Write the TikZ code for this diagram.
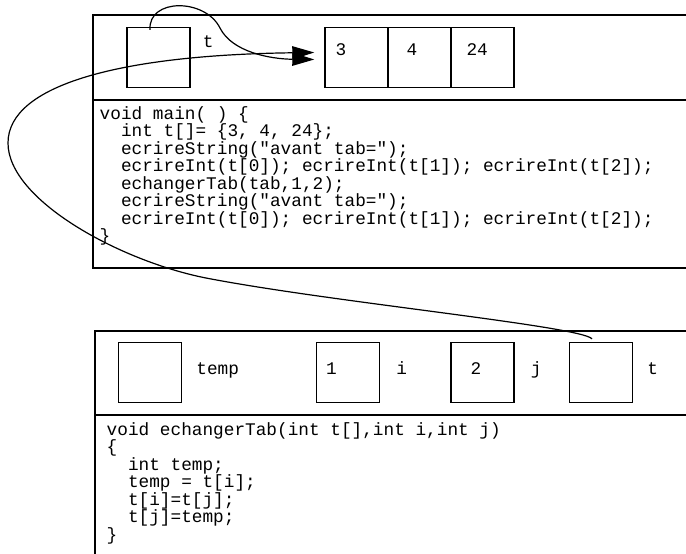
\documentclass[tikz,border=0pt]{standalone}
\usepackage{fontspec}
\newfontfamily\codefont{Liberation Mono}
\usetikzlibrary{arrows.meta,positioning}

\tikzset{
	cadre/.style={line width=1.4pt},
	boite/.style={draw,line width=1.4pt,minimum width=63pt,minimum height=60pt,inner sep=0pt},
	txt/.style={font=\codefont\fontsize{17.75pt}{17.5pt}\selectfont,inner sep=0pt},
	ligne/.style={txt,anchor=base west},
	lien/.style={line width=1.2pt,-{Triangle[length=22pt,width=13pt]}}
}

\begin{document}
\begin{tikzpicture}[x=1pt,y=-1pt]
	\useasboundingbox (0,0) rectangle (686,554);

	\draw[cadre] (686,15) -| (93,268) -- (686,268);
	\draw[cadre] (93,100) -- (686,100);
	\node[boite] (T) at (158.5,57.5) {};
	\node[txt,right=12pt of T.east,anchor=base west,yshift=10.5pt] (Tn) {t};
	\foreach \v/\d [count=\n] in {3/11pt,4/19pt,24/16pt} {
		\node[boite] (A\n) at (293.5+63*\n,57.5) {};
		\node[txt,right=\d of A\n.west,anchor=base west,yshift=2.5pt] (V\n) {\v};
	}
	\foreach \r/\l [count=\n] in {0/{void main( ) \{},2/{int t[]= \{3, 4, 24\};},2/{ecrireString("avant tab=");},2/{ecrireInt(t[0]); ecrireInt(t[1]); ecrireInt(t[2]);},2/{echangerTab(tab,1,2);},2/{ecrireString("avant tab=");},2/{ecrireInt(t[0]); ecrireInt(t[1]); ecrireInt(t[2]);},0/\}}
		\node[ligne,xshift=\r*10.65pt] (M\n) at (99.5,101.5+17.5*\n) {\l};

	\draw[cadre] (686,331) -| (95,554);
	\draw[cadre] (95,415) -- (686,415);
	\node[boite] (Btemp) at (150,372.5) {};
	\node[boite] (Bi) at (348,372.5) {};
	\node[boite] (Bj) at (482.5,372.5) {};
	\node[boite] (Bt) at (601,372.5) {};
	\node[txt,right=14pt of Btemp.east,anchor=base west,yshift=-1.5pt] (Ltemp) {temp};
	\node[txt,right=10pt of Bi.west,anchor=base west,yshift=-1.5pt] (Vi) {1};
	\node[txt,right=16pt of Bi.east,anchor=base west,yshift=-1.5pt] (Li) {i};
	\node[txt,right=20pt of Bj.west,anchor=base west,yshift=-1.5pt] (Vj) {2};
	\node[txt,right=16pt of Bj.east,anchor=base west,yshift=-1.5pt] (Lj) {j};
	\node[txt,right=14pt of Bt.east,anchor=base west,yshift=-1.5pt] (Lt) {t};
	\foreach \r/\l [count=\n] in {0/{void echangerTab(int t[],int i,int j)},0/\{,2/{int temp;},2/{temp = t[i];},2/{t[i]=t[j];},2/{t[j]=temp;},0/\}}
		\node[ligne,xshift=\r*10.65pt] (E\n) at (106.5,417.5+17.5*\n) {\l};

	\draw[lien] ([xshift=-8.5pt,yshift=-3pt]T.north) .. controls (148,-2) and (205,-2) .. (220,28)
		.. controls (232,52) and (270,59) .. ([xshift=-10pt,yshift=-2pt]A1.west);
	\draw[lien] ([xshift=-9pt,yshift=3pt]Bt.north) .. controls (580,326) and (330,302) .. (206,278)
		.. controls (120,261) and (8,200) .. (8,143)
		.. controls (8,85) and (120,55) .. ([xshift=-10pt,yshift=5pt]A1.west);
\end{tikzpicture}
\end{document}
